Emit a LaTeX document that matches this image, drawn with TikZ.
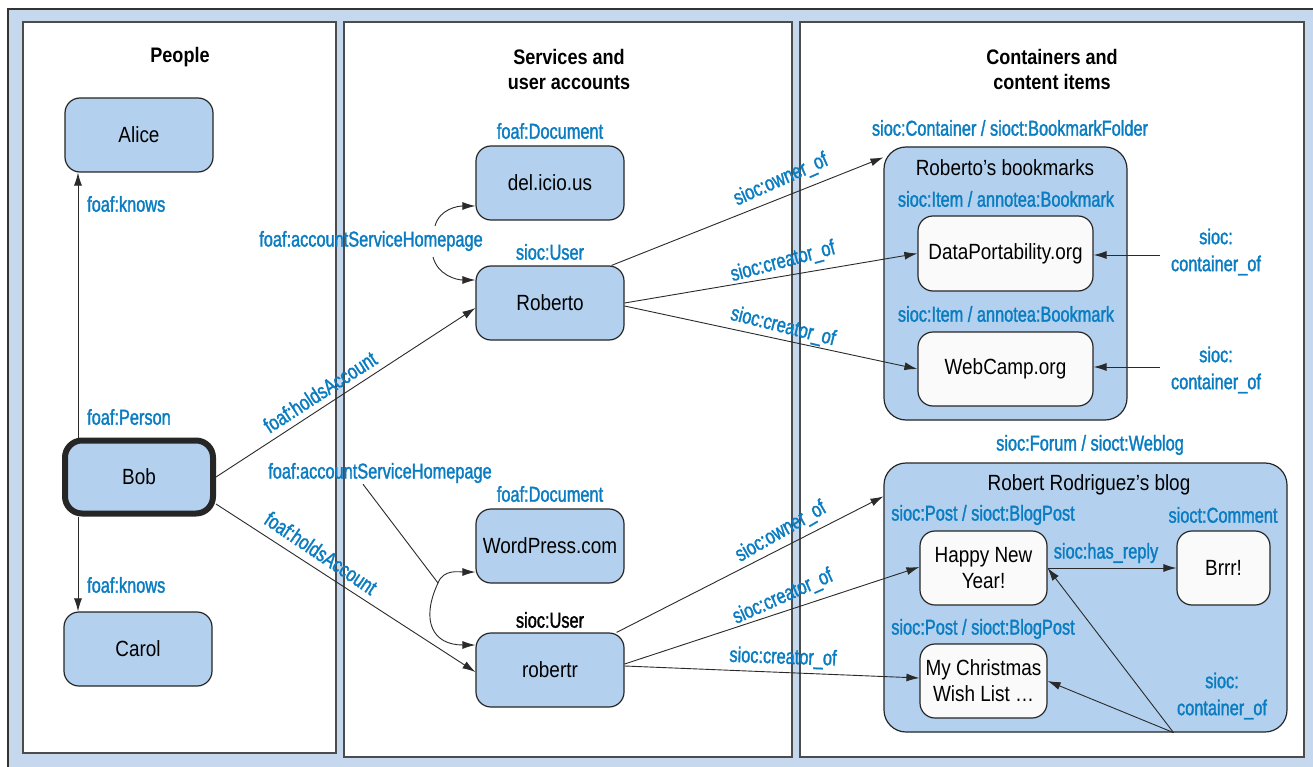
\documentclass[tikz,border=0pt]{standalone}
\usepackage{fontspec}
\setmainfont[FakeStretch=0.86]{Liberation Sans}
\newfontfamily\lblf[FakeStretch=0.76,FakeBold=1.5]{Liberation Sans}
\usetikzlibrary{arrows.meta,calc}
\definecolor{bgblue}{HTML}{C6D8EE}
\definecolor{nodeblue}{HTML}{B3D1EE}
\definecolor{lblblue}{HTML}{0A7DC2}
\definecolor{nodewhite}{HTML}{FAFAFA}
\definecolor{edgegray}{HTML}{2A2A2A}
\tikzset{
 panel/.style={draw=black!70, line width=1.5pt, fill=white},
 bnode/.style={draw=black!85, line width=1.2pt, fill=nodeblue, rounded corners=15pt, minimum width=148pt, minimum height=74pt, inner sep=0pt, font=\fontsize{22}{26}\selectfont, align=center},
 wnode/.style={bnode, fill=nodewhite},
 cont/.style={draw=black!85, line width=1.2pt, fill=nodeblue, rounded corners=22pt, inner sep=0pt},
 lbl/.style={text=lblblue, font=\lblf\fontsize{21.5}{27}\selectfont, inner sep=1pt, align=center},
 blk/.style={font=\fontsize{22}{26}\selectfont, inner sep=1pt},
 head/.style={font=\bfseries\fontsize{21}{25}\selectfont, align=center, inner sep=0pt},
 arr/.style={draw=edgegray, line width=0.9pt, -{Latex[length=13pt,width=8pt]}},
 ln/.style={draw=edgegray, line width=0.9pt},
}
\begin{document}
\begin{tikzpicture}[x=1pt,y=-1pt]
\useasboundingbox (0,0) rectangle (1313,767);
\fill[bgblue] (8,9) rectangle (1313,767);
\draw[black!80, line width=1.2pt] (8,767) -- (8,9) -- (1313,9);
\draw[panel] (23,22) rectangle (336,753);
\draw[panel] (344,22) rectangle (792,757);
\draw[panel] (800,22) rectangle (1304,757);

% headings
\node[head] (hp) at (180,57) {People};
\node[head] (hs) at (569,69) {Services and\\user accounts};
\node[head] (hc) at (1052,69) {Containers and\\content items};

% people
\node[bnode] (alice) at (139,135) {Alice};
\node[bnode, line width=6pt, rounded corners=17pt, minimum height=73pt] (bob) at (139,477) {Bob};
\node[bnode] (carol) at (138,649) {Carol};

% services
\node[bnode] (del) at (550,183) {del.icio.us};
\node[bnode] (roberto) at (550,303) {Roberto};
\node[bnode] (wp) at (550,546) {WordPress.com};
\node[bnode] (robertr) at (550,670) {robertr};

% containers
\node[cont, minimum width=243pt, minimum height=273pt] (bm) at (1005.5,283.5) {};
\node[cont, minimum width=403pt, minimum height=269pt] (blog) at (1085.5,597.5) {};
\node[blk] (bmt) at (1005,168) {Roberto’s bookmarks};
\node[blk] (blogt) at (1089,485) {Robert Rodriguez’s blog};
\node[wnode, minimum width=175pt, minimum height=75pt] (dp) at (1005.5,253.5) {DataPortability.org};
\node[wnode, minimum width=175pt] (wc) at (1005.5,369) {WebCamp.org};
\node[wnode, minimum width=127pt] (happy) at (983.5,568) {Happy New\\Year!};
\node[wnode, minimum width=93pt] (brrr) at (1223.5,568) {Brrr!};
\node[wnode, minimum width=127pt] (xmas) at (983.5,681) {My Christmas\\Wish List …};

% edges: people
\draw[arr] ([xshift=-61pt]bob.north) -- ([xshift=-61pt]alice.south);
\draw[arr] ([xshift=-61pt]bob.south) -- ([xshift=-60pt]carol.north);
\draw[arr] (bob.east) -- ($(roberto.west)+(0,5)$);
\draw[arr] ($(bob.east)+(0,27)$) -- ($(robertr.west)+(0,2)$);

% accountServiceHomepage
\coordinate (a1) at (435,226);
\coordinate (a2) at (433,257);
\draw[arr] (a1) to[out=75,in=180] ($(del.west)+(0,23)$);
\draw[arr] (a2) to[out=-75,in=180] ($(roberto.west)+(0,-23)$);
\node[lbl] (ash2) at (380,473) {foaf:accountServiceHomepage};
\coordinate (a3) at (438,583);
\draw[ln] ($(ash2.south)+(-17,0)$) -- (a3);
\draw[arr] (a3) to[out=70,in=180] ($(wp.west)+(0,26)$);
\draw[arr] (a3) to[out=-115,in=180,looseness=1.5] ($(robertr.west)+(0,-25)$);

% services -> containers
\draw[arr] ($(roberto.north east)+(-13,0)$) -- ($(bm.north west)+(0,11)$);
\draw[arr] (roberto.east) -- (dp.west);
\draw[arr] ($(roberto.east)+(0,3)$) -- (wc.west);
\draw[arr] ($(robertr.north east)+(-8,0)$) -- ($(blog.north west)+(0,34)$);
\draw[arr] ($(robertr.east)+(0,-6)$) -- ($(happy.west)+(0,-1)$);
\draw[arr] ($(robertr.east)+(0,-4)$) -- ($(xmas.west)+(0,-3)$);

% container_of
\coordinate (c1) at (1160,255);
\coordinate (c2) at (1160,367);
\draw[arr] (c1) -- (c1 -| dp.east);
\draw[arr] (c2) -- (c2 -| wc.east);
\coordinate (c3) at ($(blog.south)+(88,0)$);
\draw[arr] (c3) -- (happy.east);
\draw[arr] (c3) -- (xmas.east);
\draw[arr] (happy.east) -- (brrr.west);

% labels
\node[lbl, anchor=west] (lk1) at (86,204) {foaf:knows};
\node[lbl, anchor=west] (lpers) at (86,417) {foaf:Person};
\node[lbl, anchor=west] (lk2) at (86,585) {foaf:knows};
\node[lbl] (ash1) at (371,241) {foaf:accountServiceHomepage};
\node[lbl, rotate=33] (lha1) at (320,392) {foaf:holdsAccount};
\node[lbl, rotate=-34] (lha2) at (321,553) {foaf:holdsAccount};
\node[lbl] (ld1) at (550,131) {foaf:Document};
\node[lbl] (lu1) at (550,252) {sioc:User};
\node[lbl] (ld2) at (550,494) {foaf:Document};
\node[lbl, text=black] (lu2) at (550,620) {sioc:User};
\node[lbl, rotate=24] (lo1) at (781,180) {sioc:owner\_of};
\node[lbl, rotate=15] (lc1) at (783,262) {sioc:creator\_of};
\node[lbl, rotate=-14] (lc2) at (783,327) {sioc:creator\_of};
\node[lbl, rotate=30] (lo2) at (781,532) {sioc:owner\_of};
\node[lbl, rotate=24] (lc3) at (783,597) {sioc:creator\_of};
\node[lbl, rotate=-2] (lc4) at (783,658) {sioc:creator\_of};
\node[lbl] (lbf) at (1010,128) {sioc:Container / sioct:BookmarkFolder};
\node[lbl] (li1) at (1006,199) {sioc:Item / annotea:Bookmark};
\node[lbl] (li2) at (1006,314) {sioc:Item / annotea:Bookmark};
\node[lbl] (co1) at (1216,252) {sioc:\\container\_of};
\node[lbl] (co2) at (1216,370) {sioc:\\container\_of};
\node[lbl] (lfw) at (1090,445) {sioc:Forum / sioct:Weblog};
\node[lbl] (lp1) at (983,515) {sioc:Post / sioct:BlogPost};
\node[lbl] (lp2) at (983,629) {sioc:Post / sioct:BlogPost};
\node[lbl] (lcm) at (1223,515) {sioct:Comment};
\node[lbl] (lhr) at (1106,553) {sioc:has\_reply};
\node[lbl] (co3) at (1222,696) {sioc:\\container\_of};
\end{tikzpicture}
\end{document}
